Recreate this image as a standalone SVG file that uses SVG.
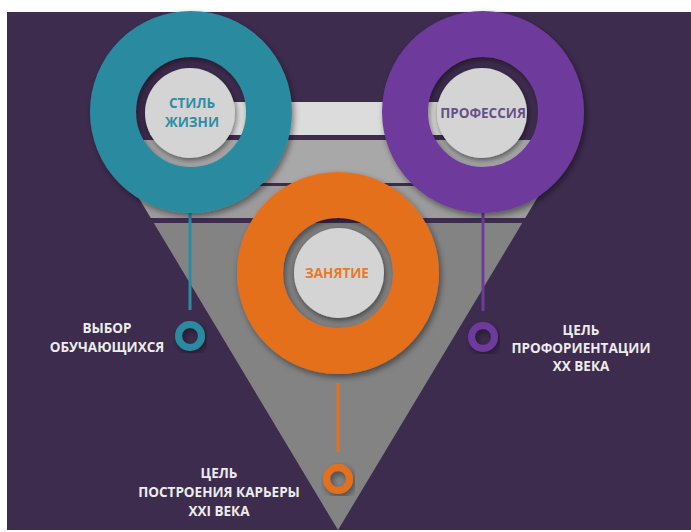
<svg xmlns="http://www.w3.org/2000/svg" width="691" height="532" viewBox="0 0 691 532">
<defs>
<filter id="sh" x="-20%" y="-20%" width="140%" height="140%">
<feDropShadow dx="2" dy="3" stdDeviation="3" flood-color="#000" flood-opacity="0.45"/>
</filter>
<filter id="dsh" x="-30%" y="-30%" width="160%" height="160%">
<feDropShadow dx="1" dy="2" stdDeviation="3" flood-color="#000" flood-opacity="0.55"/>
</filter>
<style>
.lbl{font-family:"Open Sans","Liberation Sans",sans-serif;font-weight:700;font-size:13.5px;fill:#ececec;text-anchor:middle}
.in{font-family:"Open Sans","Liberation Sans",sans-serif;font-weight:700;font-size:13.5px;text-anchor:middle}
.disk{fill:#d4d4d4}
</style>
</defs>
<rect x="0" y="0" width="691" height="532" fill="#ffffff"/>
<rect x="7" y="12" width="684" height="518" fill="#3e2c4f"/>
<g id="funnel">
<rect x="150" y="102" width="370" height="33" fill="#dcdcdc"/>
<polygon points="104,140 572,140 546.2,183 129.8,183" fill="#a8a8a8"/>
<polygon points="131.6,186 544.4,186 525.2,218 150.8,218" fill="#9c9c9c"/>
<polygon points="153.8,223 522.2,223 338,530" fill="#838383"/>
</g>
<g id="connectors">
<line x1="190" y1="210" x2="190" y2="310" stroke="#2b8ba0" stroke-width="3"/>
<line x1="483" y1="210" x2="483" y2="311" stroke="#6e3a9c" stroke-width="3"/>
<line x1="338" y1="383" x2="338" y2="452" stroke="#e5701f" stroke-width="3"/>
</g>
<g id="node-style">
<circle cx="191" cy="112" r="78" fill="none" stroke="#2b8ba0" stroke-width="46" filter="url(#sh)"/>
<circle cx="190" cy="113" r="45" class="disk" filter="url(#dsh)"/>
<text class="in" x="192" y="108" fill="#2e8ea6">СТИЛЬ</text>
<text class="in" x="192" y="127" fill="#2e8ea6">ЖИЗНИ</text>
</g>
<g id="node-profession">
<circle cx="483" cy="112" r="78" fill="none" stroke="#6e3a9c" stroke-width="46" filter="url(#sh)"/>
<circle cx="482" cy="113" r="45" class="disk" filter="url(#dsh)"/>
<text class="in" x="483" y="118" fill="#66508c">ПРОФЕССИЯ</text>
</g>
<g id="node-lesson">
<circle cx="338" cy="273" r="78" fill="none" stroke="#e5701f" stroke-width="46" filter="url(#sh)"/>
<circle cx="339" cy="273" r="45" class="disk" filter="url(#dsh)"/>
<text class="in" x="337" y="278" fill="#e8782a">ЗАНЯТИЕ</text>
</g>
<g id="node-choice">
<circle cx="190" cy="336" r="11.5" fill="none" stroke="#2b8ba0" stroke-width="7" filter="url(#sh)"/>
<text class="lbl" x="107" y="333">ВЫБОР</text>
<text class="lbl" x="107" y="352">ОБУЧАЮЩИХСЯ</text>
</g>
<g id="node-goal20">
<circle cx="483" cy="337" r="11.5" fill="none" stroke="#6e3a9c" stroke-width="7" filter="url(#sh)"/>
<text class="lbl" x="581" y="335">ЦЕЛЬ</text>
<text class="lbl" x="581" y="353">ПРОФОРИЕНТАЦИИ</text>
<text class="lbl" x="581" y="371">ХХ ВЕКА</text>
</g>
<g id="node-goal21">
<circle cx="338" cy="479" r="11.5" fill="none" stroke="#e5701f" stroke-width="7" filter="url(#sh)"/>
<text class="lbl" x="219" y="478">ЦЕЛЬ</text>
<text class="lbl" x="219" y="497">ПОСТРОЕНИЯ КАРЬЕРЫ</text>
<text class="lbl" x="219" y="516">XXI ВЕКА</text>
</g>
</svg>
